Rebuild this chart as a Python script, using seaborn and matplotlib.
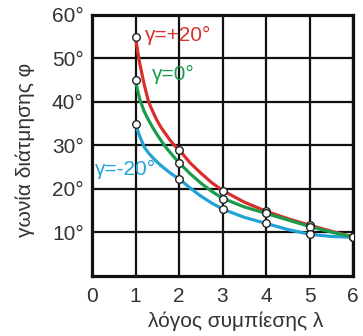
import matplotlib
matplotlib.use("Agg")
import matplotlib.pyplot as plt
import seaborn as sns
import pandas as pd

sns.set_theme(style="white")
plt.rcParams['font.family'] = ['Liberation Sans', 'DejaVu Sans']

# curve values
curve_x = [1, 1.05, 1.1, 1.2, 1.3, 1.4, 1.5, 1.6, 1.7, 1.8, 1.9, 2,
           2.25, 2.5, 2.75, 3, 3.5, 4, 4.5, 5, 5.5, 6]
red_curve = [55, 51.6, 48.7, 44, 40, 37.7, 35.6, 33.9, 32.5, 31.1, 29.9, 29,
             26, 23.6, 21.4, 19.6, 16.9, 14.8, 13.1, 11.6, 10.2, 8.9]
green_curve = [45, 42.6, 40.5, 37.8, 35.8, 34, 32.4, 30.9, 29.5, 28.3, 27.1, 26,
               23.5, 21.3, 19.4, 17.8, 15.8, 14.3, 12.8, 11.3, 10.0, 8.9]
cyan_curve = [35, 33.4, 32, 29.6, 28.2, 27.1, 26.1, 25.2, 24.4, 23.6, 22.9, 22.3,
              20.2, 18.3, 16.7, 15.3, 13.4, 12.0, 10.6, 9.5, 9.0, 8.8]

# marked points
point_x = [1, 2, 3, 4, 5, 6]
red_pts = [55, 29, 19.5, 14.8, 11.6, 8.9]
green_pts = [45, 26, 17.7, 14.3, 11.2, 8.9]
cyan_pts = [35, 22.3, 15.3, 12.0, 9.5, 8.9]

series_names = ["γ=+20°", "γ=0°", "γ=-20°"]
colors = ["#d8302b", "#1a9c4c", "#22a3d6"]
y_ticks = [10, 20, 30, 40, 50, 60]
x_ticks = [0, 1, 2, 3, 4, 5, 6]

curves = pd.concat([
    pd.DataFrame({"x": curve_x, "y": v, "s": n})
    for v, n in zip([red_curve, green_curve, cyan_curve], series_names)
])
points = pd.concat([
    pd.DataFrame({"x": point_x, "y": v, "s": n})
    for v, n in zip([red_pts, green_pts, cyan_pts], series_names)
])

fig = plt.figure(figsize=(3.63, 3.36), dpi=100)
ax = fig.add_axes([92/363, 60.5/336, 261/363, 260.5/336])

ax.set_xlim(0, 6)
ax.set_ylim(0, 60)
ax.set_xticks(x_ticks)
ax.set_yticks(y_ticks)
ax.set_xticklabels([str(t) for t in x_ticks])
ax.set_yticklabels([f"{t}°" for t in y_ticks])
ax.grid(True, color="#111111", linewidth=1.6)
ax.set_axisbelow(True)
for sp in ax.spines.values():
    sp.set_visible(True)
    sp.set_color("#111111")
    sp.set_linewidth(2.3)
ax.tick_params(axis="both", length=0, labelsize=15, colors="#333333")
ax.tick_params(axis="x", pad=8)
ax.tick_params(axis="y", pad=6)

palette = dict(zip(series_names, colors))
order = ["γ=-20°", "γ=+20°", "γ=0°"]
sns.lineplot(data=curves, x="x", y="y", hue="s", hue_order=order, palette=palette,
             linewidth=2.3, legend=False, ax=ax, zorder=3, sort=True, estimator=None)
sns.scatterplot(data=points, x="x", y="y", s=30, color="white", edgecolor="#222222",
                linewidth=1.0, legend=False, ax=ax, zorder=5)

ax.text(1.21, 55.4, series_names[0], color=colors[0], fontsize=15, va="center", ha="left")
ax.text(1.37, 46.2, series_names[1], color=colors[1], fontsize=15, va="center", ha="left")
ax.text(0.06, 24.5, series_names[2], color=colors[2], fontsize=15, va="center", ha="left")

ax.set_xlabel("")
ax.set_ylabel("")
fig.text(236/363, 1 - 321/336, "λόγος συμπίεσης λ", fontsize=15, color="#333333",
         ha="center", va="center")
fig.text(25/363, 1 - 150/336, "γωνία διάτμησης φ", fontsize=15, color="#333333",
         ha="center", va="center", rotation=90)

fig.savefig("out.png", dpi=100)
